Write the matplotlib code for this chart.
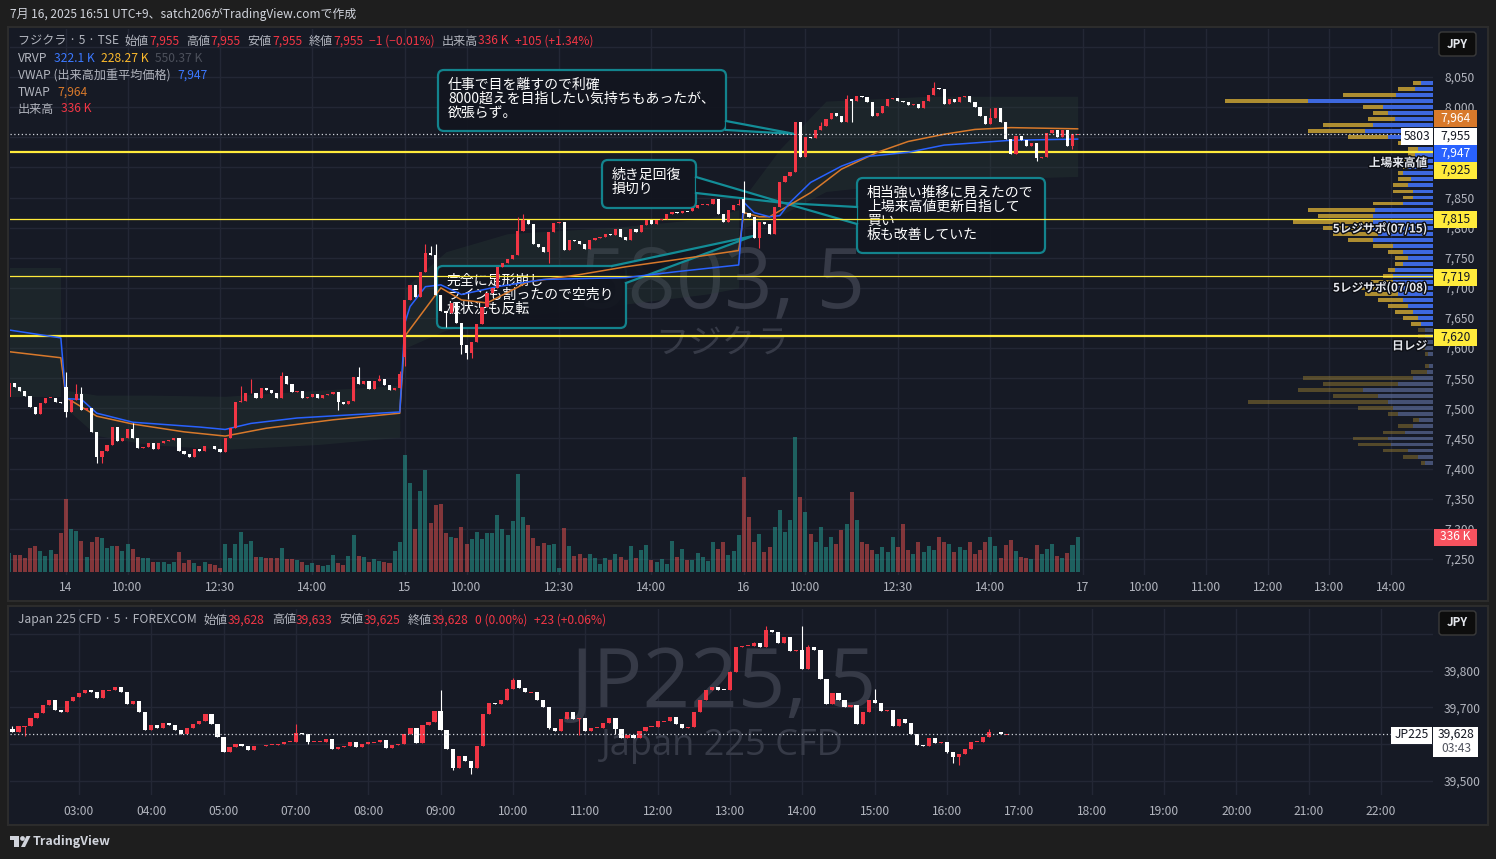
import numpy as np
import matplotlib
matplotlib.use("Agg")
import matplotlib.pyplot as plt
import matplotlib.transforms as mtransforms
import matplotlib.patheffects as pe
from matplotlib.patches import Rectangle, FancyBboxPatch, Polygon, Circle

W, H = 1496, 859
plt.rcParams['font.family'] = ['Noto Sans CJK JP', 'DejaVu Sans']

# ---------------- data: フジクラ 5803 (5 min), 7/11 tail + 7/14, 7/15, 7/16
TSE_CLOSE_D11 = [7542, 7535, 7528, 7520, 7502, 7490, 7509, 7517, 7518, 7510, 7509]
TSE_CLOSE_D14 = [7494, 7514, 7524, 7497, 7500, 7460, 7420, 7429, 7440, 7469,
                 7446, 7450, 7466, 7450, 7434, 7436, 7443, 7433, 7443, 7445,
                 7448, 7450, 7429, 7425, 7420, 7432, 7430, 7438, 7437, 7432,
                 7428, 7450, 7467, 7510, 7512, 7525, 7526, 7518, 7533, 7530,
                 7525, 7518, 7554, 7540, 7527, 7528, 7518, 7519, 7524, 7518,
                 7522, 7524, 7527, 7510, 7507, 7512, 7552, 7540, 7545, 7532,
                 7545, 7548, 7538, 7530, 7534, 7557]
TSE_CLOSE_D15 = [7680, 7705, 7685, 7727, 7758, 7755, 7688, 7662, 7658, 7675,
                 7642, 7605, 7592, 7610, 7640, 7668, 7692, 7700, 7735, 7742,
                 7748, 7755, 7795, 7812, 7806, 7772, 7768, 7760, 7792, 7808,
                 7810, 7763, 7780, 7777, 7772, 7765, 7780, 7782, 7784, 7790,
                 7788, 7797, 7785, 7780, 7797, 7793, 7805, 7812, 7806, 7812,
                 7815, 7822, 7826, 7824, 7828, 7827, 7832, 7838, 7838, 7840,
                 7848, 7822, 7810, 7830, 7838, 7840]
TSE_CLOSE_D16 = [7825, 7818, 7783, 7810, 7806, 7790, 7835, 7875, 7885, 7893,
                 7975, 7917, 7950, 7948, 7962, 7968, 7980, 7990, 7985, 7975,
                 8013, 8010, 8018, 8016, 8008, 7985, 7990, 8002, 8013, 8015,
                 8010, 8009, 8004, 8006, 7998, 8010, 8020, 8032, 8030, 8006,
                 8013, 8008, 8016, 8018, 8008, 8000, 7985, 7972, 7982, 7998,
                 7975, 7947, 7922, 7952, 7945, 7935, 7940, 7915, 7917, 7957,
                 7962, 7950, 7962, 7935, 7955, 7955]
TSE_OPEN_GAPS = {0: 7519, 11: 7536, 77: 7585, 143: 7848}
TSE_HIGHS = {11: 7560, 13: 7540, 14: 7535, 24: 7475, 45: 7537, 47: 7548, 53: 7561,
             68: 7568, 72: 7555, 76: 7562, 81: 7772, 82: 7770, 83: 7772, 99: 7818,
             100: 7822, 142: 7848, 143: 7877, 154: 7970, 158: 7975, 163: 8020,
             180: 8041, 191: 7998}
TSE_LOWS = {11: 7486, 17: 7409, 18: 7409, 64: 7497, 77: 7570, 85: 7635, 88: 7590,
            89: 7582, 90: 7583, 105: 7742, 146: 7767, 164: 7975, 200: 7910, 207: 7930}

# volume in thousands of shares
TSE_VOL_D11 = [180, 160, 160, 134, 228, 247, 202, 154, 208, 170, 372]
TSE_VOL_D14 = [698, 413, 391, 295, 141, 288, 333, 326, 230, 250,
               250, 199, 266, 218, 141, 134, 134, 93, 93, 93,
               77, 99, 192, 86, 112, 84, 58, 93, 77, 70,
               36, 266, 134, 266, 381, 266, 298, 141, 141, 132,
               132, 132, 230, 128, 128, 118, 96, 70, 86, 64,
               58, 70, 160, 84, 70, 154, 355, 154, 147, 96,
               128, 103, 93, 86, 202, 285]
TSE_VOL_D15 = [1120, 852, 410, 775, 976, 468, 640, 656, 372, 336,
               326, 432, 266, 317, 384, 317, 372, 372, 547, 410,
               352, 490, 938, 525, 448, 326, 250, 278, 256, 266,
               38, 420, 250, 154, 170, 132, 170, 132, 80, 132,
               112, 170, 141, 112, 250, 132, 208, 256, 118, 99,
               128, 80, 298, 141, 224, 118, 118, 182, 147, 106,
               285, 224, 285, 163, 204, 355]
TSE_VOL_D16 = [912, 528, 288, 365, 192, 240, 432, 595, 384, 499,
               1296, 720, 576, 365, 288, 432, 240, 336, 269, 403,
               461, 768, 499, 288, 269, 211, 173, 240, 192, 336,
               240, 461, 211, 173, 288, 192, 250, 211, 336, 288,
               269, 192, 240, 211, 288, 173, 211, 288, 336, 250,
               137, 256, 304, 202, 144, 132, 122, 256, 170, 218,
               266, 151, 132, 180, 256, 336]

# VWAP / TWAP read at sample bars
VWAP_X = [0, 10, 11, 14, 17, 24, 37, 42, 47, 56, 66, 76, 77, 78, 81, 84, 88, 95, 104, 120,
          130, 142, 143, 145, 148, 150, 152, 156, 162, 167, 175, 182, 195, 208]
VWAP_Y = [7630, 7617, 7516, 7515, 7492, 7477, 7469, 7465, 7475, 7484, 7489, 7494, 7642, 7669,
          7702, 7705, 7689, 7702, 7714, 7717, 7727, 7738, 7842, 7825, 7818, 7820, 7842, 7875,
          7902, 7918, 7925, 7937, 7945, 7947]
TWAP_X = [0, 10, 11, 17, 24, 34, 42, 50, 63, 76, 77, 84, 88, 93, 101, 111, 120, 130, 142, 143,
          146, 148, 152, 156, 162, 169, 175, 182, 188, 195, 208]
TWAP_Y = [7594, 7584, 7518, 7487, 7474, 7461, 7454, 7467, 7481, 7492, 7620, 7700, 7680, 7675,
          7710, 7722, 7735, 7747, 7762, 7825, 7818, 7818, 7838, 7858, 7897, 7925, 7943, 7955,
          7963, 7966, 7964]
# faint VWAP band per session
BAND_X = [[0, 10], [11, 17, 27, 42, 60, 76], [77, 85, 97, 117, 136, 142], [143, 150, 159, 179, 208]]
BAND_HI = [[7733, 7733], [7530, 7522, 7522, 7520, 7530, 7538],
           [7700, 7760, 7790, 7800, 7815, 7830], [7850, 7930, 8010, 8018, 8018]]
BAND_LO = [[7519, 7519], [7500, 7455, 7440, 7432, 7440, 7452],
           [7600, 7630, 7650, 7670, 7690, 7700], [7800, 7820, 7860, 7878, 7885]]

# visible range volume profile (relative), 10-yen rows
PROF_PRICE = np.arange(8040, 7400, -10)
PROF_TOTAL = [20, 35, 90, 208, 70, 60, 65, 110, 125, 85,
              35, 25, 25, 30, 30, 35, 35, 40, 40, 30,
              60, 125, 115, 140, 110, 100, 85, 60, 45, 38,
              38, 45, 50, 62, 75, 68, 55, 45, 38, 30,
              22, 15, 15, 14, 12, 8, 0, 8, 22, 130,
              110, 135, 100, 185, 75, 45, 20, 35, 50, 80,
              75, 50, 30, 12]
PROF_UP = [12, 18, 37, 125, 50, 45, 38, 60, 68, 45,
           25, 15, 18, 25, 25, 30, 22, 25, 20, 20,
           30, 58, 60, 60, 60, 55, 60, 40, 30, 25,
           30, 38, 40, 40, 50, 35, 30, 25, 20, 15,
           12, 8, 8, 9, 8, 5, 0, 4, 6, 20,
           35, 70, 55, 45, 40, 35, 14, 20, 28, 45,
           42, 25, 15, 8]
PROF_VALUE_LOW = 7640

LEVELS = [7925, 7815, 7719, 7620]
LEVEL_NAMES = ['上場来高値', '5レジサポ(07/15)', '5レジサポ(07/08)', '日レジ']

TSE_TIME_POS = [11, 23, 41, 59, 77, 89, 107, 125, 143, 155, 173, 191, 209, 221, 233, 245, 257, 269]
TSE_TIME_LBL = ['14', '10:00', '12:30', '14:00', '15', '10:00', '12:30', '14:00', '16',
                '10:00', '12:30', '14:00', '17', '10:00', '11:00', '12:00', '13:00', '14:00']
TSE_PRICE_LBL = [7250, 7300, 7350, 7400, 7450, 7500, 7550, 7600, 7650, 7700, 7750, 7800,
                 7850, 8000, 8050]

# ---------------- data: Japan 225 CFD (5 min)
JP_CLOSE = [39634, 39648, 39650, 39672, 39684, 39705, 39721, 39693, 39688, 39716,
            39729, 39739, 39748, 39741, 39726, 39746, 39748, 39754, 39743, 39710,
            39716, 39688, 39639, 39652, 39645, 39657, 39652, 39639, 39628, 39645,
            39654, 39663, 39683, 39654, 39619, 39578, 39592, 39601, 39595, 39583,
            39594, 39596, 39598, 39599, 39601, 39607, 39607, 39629, 39628, 39605,
            39607, 39607, 39614, 39586, 39592, 39596, 39607, 39592, 39601, 39605,
            39606, 39610, 39589, 39599, 39601, 39628, 39643, 39604, 39652, 39659,
            39690, 39639, 39587, 39536, 39569, 39553, 39534, 39596, 39683, 39711,
            39709, 39719, 39750, 39775, 39753, 39741, 39741, 39720, 39702, 39643,
            39637, 39668, 39688, 39668, 39670, 39637, 39643, 39645, 39657, 39670,
            39641, 39616, 39625, 39616, 39635, 39647, 39647, 39662, 39663, 39674,
            39654, 39645, 39647, 39686, 39719, 39746, 39755, 39748, 39747, 39797,
            39864, 39867, 39867, 39875, 39864, 39911, 39905, 39875, 39891, 39854,
            39857, 39805, 39864, 39856, 39777, 39708, 39738, 39719, 39702, 39705,
            39654, 39686, 39721, 39712, 39690, 39692, 39650, 39668, 39657, 39628,
            39599, 39594, 39616, 39603, 39607, 39578, 39565, 39574, 39587, 39607,
            39607, 39620, 39632, 39634, 39627, 39628]
JP_OPEN_GAPS = {0: 39641}
JP_HIGHS = {0: 39648, 47: 39655, 71: 39748, 82: 39752, 83: 39780, 85: 39752, 119: 39800,
            123: 39878, 125: 39920, 131: 39922, 132: 39870, 135: 39740, 143: 39750, 162: 39640}
JP_LOWS = {2: 39623, 49: 39600, 73: 39530, 76: 39519, 89: 39640, 94: 39625, 100: 39628,
           155: 39575, 156: 39548, 157: 39543}
JP_TIME_POS = [11, 23, 35, 47, 59, 71, 83, 95, 107, 119, 131, 143, 155, 167, 179, 191, 203, 215, 227]
JP_TIME_LBL = ['03:00', '04:00', '05:00', '07:00', '08:00', '09:00', '10:00', '11:00', '12:00',
               '13:00', '14:00', '15:00', '16:00', '17:00', '18:00', '19:00', '20:00', '21:00', '22:00']
JP_PRICE_LBL = [39500, 39700, 39800]

# ---------------- style
BG_OUT = '#1e1e1e'
BG_PANE = '#161a25'
PANE_EDGE = '#2c2c2c'
GRID = '#232735'
TXT = '#b2b5be'
UP = '#f23645'
DOWN = '#ffffff'
VOL_UP = '#26a69a'
VOL_DN = '#ef5350'
BLUE = '#2962ff'
ORANGE = '#d8792b'
YELLOW = '#ffeb3b'
GOLD = '#c9a234'
TEAL = '#138d97'
BOX_FC = '#12151f'
WATERMARK = '#363a47'

TSE_XLIM = (0.1, 277.2)
TSE_YLIM = (7223.4, 8129.7)
JP_XLIM = (-0.41, 235.6)
JP_YLIM = (39462, 39967)

fig = plt.figure(figsize=(W / 100, H / 100), dpi=100, facecolor=BG_OUT)
PX = mtransforms.Affine2D().scale(1 / W, -1 / H).translate(0, 1) + fig.transFigure


def px_rect(x0, y0, x1, y1):
    return [x0 / W, 1 - y1 / H, (x1 - x0) / W, (y1 - y0) / H]


def build_ohlc(close, gaps, highs, lows):
    c = np.array(close, float)
    o = np.r_[c[0], c[:-1]]
    for i, v in gaps.items():
        o[i] = v
    h = np.maximum(o, c)
    l = np.minimum(o, c)
    for i, v in highs.items():
        h[i] = max(h[i], v)
    for i, v in lows.items():
        l[i] = min(l[i], v)
    return o, h, l, c


def draw_candles(ax, o, h, l, c, width, min_body):
    x = np.arange(len(c))
    cols = np.where(c >= o, UP, DOWN)
    ax.vlines(x, l, h, colors=cols, lw=0.8, zorder=3)
    body = np.abs(c - o)
    mid = (o + c) / 2
    hgt = np.maximum(body, min_body)
    ax.bar(x, hgt, width, bottom=mid - hgt / 2, color=cols, lw=0, zorder=3.1)


for (x0, y0, x1, y1) in [(8, 27, 1488, 601), (8, 606, 1488, 825)]:
    fig.add_artist(Rectangle((x0, y0), x1 - x0, y1 - y0, transform=PX, fc=BG_PANE,
                             ec=PANE_EDGE, lw=1.5, zorder=0))

# ---------------- top pane
TOP_RECT = px_rect(10, 29, 1433, 575)
ax_vol = fig.add_axes(TOP_RECT)
ax_vol.set_zorder(1)
ax_prof = fig.add_axes(TOP_RECT)
ax_prof.set_zorder(1.5)
ax_top = fig.add_axes(TOP_RECT)
ax_top.set_zorder(2)
for a in (ax_vol, ax_prof, ax_top):
    a.patch.set_visible(False)
    for s in a.spines.values():
        s.set_visible(False)

ax_top.set_xlim(*TSE_XLIM)
ax_top.set_ylim(*TSE_YLIM)
ax_vol.set_xlim(*TSE_XLIM)
ax_vol.set_ylim(-29, 5213)
ax_vol.set_xticks([])
ax_vol.set_yticks([])

# grid (drawn in the back axes)
ygrid = mtransforms.blended_transform_factory(ax_vol.transAxes, ax_top.transData)
for p in np.arange(7250, 8101, 50):
    ax_vol.plot([0, 1], [p, p], transform=ygrid, color=GRID, lw=1, zorder=0.5)
for xp in TSE_TIME_POS:
    ax_vol.axvline(xp, color=GRID, lw=1, zorder=0.5)

tse_o, tse_h, tse_l, tse_c = build_ohlc(TSE_CLOSE_D11 + TSE_CLOSE_D14 + TSE_CLOSE_D15 + TSE_CLOSE_D16,
                                        TSE_OPEN_GAPS, TSE_HIGHS, TSE_LOWS)
tse_vol = np.array(TSE_VOL_D11 + TSE_VOL_D14 + TSE_VOL_D15 + TSE_VOL_D16, float)
vol_cols = np.where(tse_c >= tse_o, VOL_UP, VOL_DN)
ax_vol.bar(np.arange(len(tse_vol)), tse_vol, 0.78, color=vol_cols, alpha=0.5, lw=0, zorder=2)

# volume profile anchored to right edge
ax_prof.set_xlim(1423, 0)
ax_prof.set_ylim(*TSE_YLIM)
ax_prof.set_xticks([])
ax_prof.set_yticks([])
inside = PROF_PRICE >= PROF_VALUE_LOW
for mask, alpha in [(inside, 0.85), (~inside, 0.35)]:
    ax_prof.barh(PROF_PRICE[mask], np.array(PROF_TOTAL)[mask], height=6.5, color=GOLD,
                 alpha=alpha, lw=0)
    ax_prof.barh(PROF_PRICE[mask], np.array(PROF_UP)[mask], height=6.5, color=BLUE,
                 alpha=alpha, lw=0)

# watermark
fig.text(722, 286, '5803, 5', transform=PX, ha='center', va='center', fontsize=61,
         family=['Open Sans', 'DejaVu Sans'], color=WATERMARK, zorder=1.2)
fig.text(722, 343, 'フジクラ', transform=PX, ha='center', va='center', fontsize=24,
         color=WATERMARK, zorder=1.2)

# VWAP bands + lines
for bx, bh, bl in zip(BAND_X, BAND_HI, BAND_LO):
    ax_top.fill_between(bx, bl, bh, color='#2c4038', alpha=0.3, lw=0, zorder=1)
ax_top.plot(VWAP_X, VWAP_Y, color=BLUE, lw=1.1, zorder=2.8)
ax_top.plot(TWAP_X, TWAP_Y, color=ORANGE, lw=1.1, zorder=2.7)

for lv in LEVELS:
    thick = lv in (LEVELS[0], LEVELS[-1])
    ax_top.axhline(lv, color=YELLOW, lw=1.6 if thick else 0.9, zorder=2.6)
ax_top.axhline(tse_c[-1], 0, 1392 / 1423, color='#d1d4dc', lw=0.9, ls=(0, (1, 2)), zorder=4)

draw_candles(ax_top, tse_o, tse_h, tse_l, tse_c, 0.62, 1.6)

ax_top.yaxis.tick_right()
ax_top.set_yticks(TSE_PRICE_LBL)
ax_top.set_yticklabels([f'{v:,}' for v in TSE_PRICE_LBL])
ax_top.set_xticks(TSE_TIME_POS)
ax_top.set_xticklabels(TSE_TIME_LBL)
ax_top.tick_params(axis='both', length=0, colors=TXT, labelsize=8.7)
ax_top.tick_params(axis='y', pad=8)
ax_top.tick_params(axis='x', pad=4)


# ---------------- callouts
def callout(ax, box, lines, pointer, z=2.5):
    x0, y0, x1, y1 = box
    ax.add_patch(FancyBboxPatch((x0, y0), x1 - x0, y1 - y0,
                                boxstyle='round,pad=0,rounding_size=6', transform=PX,
                                fc=BOX_FC, ec=TEAL, lw=1.6, alpha=0.92, zorder=z, clip_on=False))
    b1, tip, b2 = pointer
    ax.add_patch(Polygon([b1, tip, b2], closed=True, transform=PX, fc=BOX_FC, ec='none',
                         alpha=0.92, zorder=z, clip_on=False))
    ax.plot([b1[0], tip[0], b2[0]], [b1[1], tip[1], b2[1]], transform=PX, color=TEAL,
            lw=1.6, zorder=z + 0.01, clip_on=False)
    ax.text(x0 + 10, y0 + 8, lines, transform=PX, ha='left', va='top', color='white',
            fontsize=10, linespacing=1.0, zorder=z + 0.02, clip_on=False)


callout(ax_top, (438, 70, 726, 131),
        '仕事で目を離すので利確\n8000超えを目指したい気持ちもあったが、\n欲張らず。',
        ((726, 121), (795, 134), (726, 130)))
callout(ax_top, (602, 160, 696, 208), '続き足回復\n損切り',
        ((696, 177), (784, 203), (696, 193)))
callout(ax_top, (857, 178, 1045, 253),
        '相当強い推移に見えたので\n上場来高値更新目指して\n買い\n板も改善していた',
        ((857, 207), (784, 203), (857, 224)))
callout(ax_top, (437, 266, 626, 328), '完全に足形崩し\nラインも割ったので空売り\n板状況も反転',
        ((612, 266), (753, 236), (626, 283)), z=2.2)

# level labels
for lv, name, yy in zip(LEVELS, LEVEL_NAMES, [163, 229, 288, 346]):
    fig.text(1427, yy, name, transform=PX, ha='right', va='center', color='#e6e8ee',
             fontsize=8.4, weight='bold', zorder=5,
             path_effects=[pe.withStroke(linewidth=2, foreground='#0d0f15')])

# ---------------- bottom pane
ax_bot = fig.add_axes(px_rect(10, 609, 1433, 795))
ax_bot.set_zorder(1)
ax_bot.patch.set_visible(False)
for s in ax_bot.spines.values():
    s.set_visible(False)
ax_bot.set_xlim(*JP_XLIM)
ax_bot.set_ylim(*JP_YLIM)
for p in np.arange(39500, 39901, 100):
    ax_bot.axhline(p, color=GRID, lw=1, zorder=0.4)
for xp in JP_TIME_POS:
    ax_bot.axvline(xp, color=GRID, lw=1, zorder=0.4)
ax_bot.text(724, 686, 'JP225, 5', transform=PX, ha='center', va='center', fontsize=60,
            family=['Open Sans', 'DejaVu Sans'], color=WATERMARK, zorder=0.6, clip_on=False)
ax_bot.text(722, 746, 'Japan 225 CFD', transform=PX, ha='center', va='center', fontsize=26,
            family=['Open Sans', 'DejaVu Sans'], color=WATERMARK, zorder=0.6, clip_on=False)
jp_o, jp_h, jp_l, jp_c = build_ohlc(JP_CLOSE, JP_OPEN_GAPS, JP_HIGHS, JP_LOWS)
ax_bot.axhline(jp_c[-1], 0, 1382 / 1423, color='#d1d4dc', lw=0.9, ls=(0, (1, 2)), zorder=4)
draw_candles(ax_bot, jp_o, jp_h, jp_l, jp_c, 0.7, 2.6)
ax_bot.yaxis.tick_right()
ax_bot.set_yticks(JP_PRICE_LBL)
ax_bot.set_yticklabels([f'{v:,}' for v in JP_PRICE_LBL])
ax_bot.set_xticks(JP_TIME_POS)
ax_bot.set_xticklabels(JP_TIME_LBL)
ax_bot.tick_params(axis='both', length=0, colors=TXT, labelsize=8.7)
ax_bot.tick_params(axis='y', pad=8)
ax_bot.tick_params(axis='x', pad=7)


# ---------------- price tags / buttons
def tag(x0, yc, w, label, fc, tc, h=17):
    fig.add_artist(Rectangle((x0, yc - h / 2), w, h, transform=PX, fc=fc, ec='none', zorder=6))
    fig.text(x0 + w / 2, yc, label, transform=PX, ha='center', va='center', color=tc,
             fontsize=8.7, zorder=7)


tag(1434, 118, 43, '7,964', ORANGE, 'white')
tag(1434, 136, 43, '7,955', '#ffffff', '#131722')
tag(1401, 136, 32, '5803', '#ffffff', '#131722')
tag(1434, 153, 43, '7,947', BLUE, 'white')
tag(1434, 170, 43, '7,925', YELLOW, '#131722')
tag(1434, 219, 43, '7,815', YELLOW, '#131722')
tag(1434, 277, 43, '7,719', YELLOW, '#131722')
tag(1434, 337, 43, '7,620', YELLOW, '#131722')
tag(1434, 537, 43, '336 K', '#f7525f', 'white')
tag(1391, 735, 41, 'JP225', '#ffffff', '#131722')
fig.add_artist(Rectangle((1433, 727), 45, 30, transform=PX, fc='#ffffff', ec='none', zorder=6))
fig.text(1456, 734, '39,628', transform=PX, ha='center', va='center', color='#131722',
         fontsize=8.7, zorder=7)
fig.text(1456, 749, '03:43', transform=PX, ha='center', va='center', color='#50535e',
         fontsize=8.7, zorder=7)

for yb in (32, 611):
    fig.add_artist(FancyBboxPatch((1439, yb), 37, 24, boxstyle='round,pad=0,rounding_size=3',
                                  transform=PX, fc='#0d0d0d', ec='#3a3a3a', lw=1, zorder=6))
    fig.text(1457.5, yb + 12, 'JPY', transform=PX, ha='center', va='center', color='#e6e8ee',
             fontsize=8.4, weight='bold', zorder=7)

# ---------------- legends and header
renderer = fig.canvas.get_renderer()


def legend_row(x, y, parts, fs=8.7):
    for text, color, gap in parts:
        t = fig.text(x, y, text, transform=PX, color=color, fontsize=fs, ha='left',
                     va='center', zorder=8)
        x += t.get_window_extent(renderer).width + gap


legend_row(18, 41, [('フジクラ · 5 · TSE', TXT, 6), ('始値', TXT, 0), ('7,955', UP, 7),
                    ('高値', TXT, 0), ('7,955', UP, 7), ('安値', TXT, 0), ('7,955', UP, 7),
                    ('終値', TXT, 0), ('7,955', UP, 6), ('−1 (−0.01%)', UP, 7),
                    ('出来高', TXT, 0), ('336 K', UP, 6), ('+105 (+1.34%)', UP, 0)])
legend_row(18, 58, [('VRVP', TXT, 7), ('322.1 K', '#3b78ff', 6), ('228.27 K', '#f9b82c', 6),
                    ('550.37 K', '#4c505b', 0)])
legend_row(18, 75, [('VWAP (出来高加重平均価格)', TXT, 7), ('7,947', '#3b78ff', 0)])
legend_row(18, 92, [('TWAP', TXT, 7), ('7,964', ORANGE, 0)])
legend_row(18, 109, [('出来高', TXT, 7), ('336 K', UP, 0)])
legend_row(18, 620, [('Japan 225 CFD · 5 · FOREXCOM', TXT, 7), ('始値', TXT, 0), ('39,628', UP, 7),
                     ('高値', TXT, 0), ('39,633', UP, 7), ('安値', TXT, 0), ('39,625', UP, 7),
                     ('終値', TXT, 0), ('39,628', UP, 6), ('0 (0.00%)', UP, 7),
                     ('+23 (+0.06%)', UP, 0)])

fig.text(10, 14, '7月 16, 2025 16:51 UTC+9、satch206がTradingView.comで作成', transform=PX,
         ha='left', va='center', color='#d1d4dc', fontsize=8.6, zorder=8)

# TradingView logo
for art in [Rectangle((10, 836), 9, 3.5, transform=PX, fc='#d1d4dc', ec='none', zorder=8),
            Rectangle((14.5, 836), 4.5, 11, transform=PX, fc='#d1d4dc', ec='none', zorder=8),
            Circle((22.5, 838.5), 2.4, transform=PX, fc='#d1d4dc', ec='none', zorder=8),
            Polygon([(21, 847), (26.5, 836), (30.5, 836), (25, 847)], transform=PX,
                    fc='#d1d4dc', ec='none', zorder=8)]:
    fig.add_artist(art)
fig.text(33, 841, 'TradingView', transform=PX, ha='left', va='center', color='#d1d4dc',
         fontsize=9, weight='bold', zorder=8)

fig.savefig('out.png', dpi=100, facecolor=BG_OUT)
